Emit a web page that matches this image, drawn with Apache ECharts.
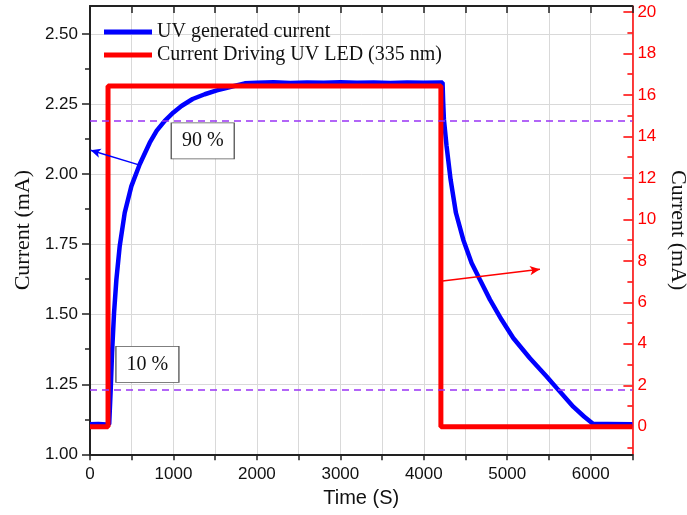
<!DOCTYPE html>
<html><head><meta charset="utf-8">
<script src="https://cdn.jsdelivr.net/npm/echarts@6/dist/echarts.min.js"></script>
<style>html,body{margin:0;padding:0;background:#fff}#c{width:687px;height:515px}</style>
</head><body><div id="c"></div>
<script>
// UV generated current (left axis, mA)
const uvTime = [0, 100, 200, 230, 236, 248, 264, 288, 316, 356, 416, 496, 596, 716, 800, 896, 1000, 1096, 1230, 1375, 1520, 1655, 1855, 2000, 2200, 2400, 2600, 2800, 3000, 3200, 3400, 3600, 3800, 4000, 4225, 4232, 4241, 4273, 4321, 4385, 4473, 4573, 4673, 4793, 4933, 5072, 5272, 5472, 5612, 5791, 5920, 6031, 6200, 6500];
const uvCurrent = [1.107, 1.108, 1.106, 1.108, 1.111, 1.230, 1.361, 1.504, 1.623, 1.743, 1.862, 1.957, 2.035, 2.112, 2.155, 2.190, 2.220, 2.243, 2.268, 2.285, 2.299, 2.309, 2.324, 2.326, 2.328, 2.325, 2.327, 2.326, 2.328, 2.326, 2.327, 2.325, 2.327, 2.326, 2.327, 2.26, 2.196, 2.100, 1.981, 1.862, 1.766, 1.683, 1.623, 1.552, 1.480, 1.415, 1.343, 1.278, 1.230, 1.170, 1.135, 1.108, 1.108, 1.107];
// Current driving UV LED (right axis, mA)
const ledTime = [0, 216, 216, 4205, 4205, 6500];
const ledCurrent = [0, 0, 16.43, 16.43, 0, 0];
// levels and tick labels
const level90 = 2.192;
const level10 = 1.227;
const xLabels = [0, 1000, 2000, 3000, 4000, 5000, 6000];
const xTicks = [0, 500, 1000, 1500, 2000, 2500, 3000, 3500, 4000, 4500, 5000, 5500, 6000, 6500];
const leftLabels = [1.00, 1.25, 1.50, 1.75, 2.00, 2.25, 2.50];
const leftMinor = [1.125, 1.375, 1.625, 1.875, 2.125, 2.375];
const rightLabels = [0, 2, 4, 6, 8, 10, 12, 14, 16, 18, 20];
const rightMinor = [-1, 1, 3, 5, 7, 9, 11, 13, 15, 17, 19];

const SERIF = "'Liberation Serif','Times New Roman',serif";
const SANS = "'Liberation Sans',Arial,sans-serif";

const uvData = uvTime.map((t, i) => [t, uvCurrent[i]]);
const ledData = ledTime.map((t, i) => [t, ledCurrent[i]]);

const chart = echarts.init(document.getElementById('c'));
const rect = { left: 90, right: 54.6, top: 6, bottom: 60.7, containLabel: false, outerBoundsMode: 'none' };
chart.setOption({
  animation: false,
  backgroundColor: '#fff',
  grid: [Object.assign({}, rect), Object.assign({}, rect)],
  legend: {
    orient: 'vertical', left: 104, top: 22, padding: 0, itemGap: 3,
    itemWidth: 48, itemHeight: 5, icon: 'rect',
    textStyle: { fontFamily: SERIF, fontSize: 20, color: '#111', lineHeight: 20 },
    data: ['UV generated current', 'Current Driving UV LED (335 nm)']
  },
  xAxis: [
    {
      type: 'value', gridIndex: 0, position: 'bottom', min: 0, max: 6500, interval: 1000,
      name: 'Time (S)', nameLocation: 'middle', nameGap: 30,
      nameTextStyle: { fontFamily: SANS, fontSize: 20, color: '#111' },
      axisLine: { show: true, onZero: false, lineStyle: { color: '#222', width: 2 } },
      axisTick: { show: true, inside: false, length: 6, customValues: xTicks, lineStyle: { color: '#222', width: 1.5 } },
      axisLabel: { customValues: xLabels, formatter: v => String(v), fontFamily: SANS, fontSize: 17, color: '#111', margin: 12 },
      splitLine: { show: true, lineStyle: { color: '#d9d9d9', width: 1 } }
    },
    {
      type: 'value', gridIndex: 0, position: 'top', min: 0, max: 6500, interval: 500,
      axisLine: { show: true, onZero: false, lineStyle: { color: '#222', width: 2 } },
      axisTick: { show: true, inside: true, length: 7, lineStyle: { color: '#222', width: 1.5 } },
      axisLabel: { show: false },
      splitLine: { show: false }
    },
    {
      type: 'value', gridIndex: 1, min: 0, max: 6500, show: false
    }
  ],
  yAxis: [
    {
      type: 'value', gridIndex: 0, position: 'left', min: 1.0, max: 2.6, interval: 0.25,
      name: 'Current (mA)', nameLocation: 'middle', nameGap: 50,
      nameTextStyle: { fontFamily: SERIF, fontSize: 22, color: '#111' },
      axisLine: { show: true, onZero: false, lineStyle: { color: '#222', width: 2 } },
      axisTick: { show: true, inside: false, length: 8, customValues: leftLabels, lineStyle: { color: '#222', width: 1.5 } },
      axisLabel: { customValues: leftLabels, formatter: v => v.toFixed(2), fontFamily: SANS, fontSize: 17, color: '#111', margin: 12 },
      splitLine: { show: true, lineStyle: { color: '#d9d9d9', width: 1 } }
    },
    {
      type: 'value', gridIndex: 0, position: 'right', min: -1.33, max: 20.29,
      name: 'Current (mA)', nameLocation: 'middle', nameGap: 30, nameRotate: -90,
      nameTextStyle: { fontFamily: SERIF, fontSize: 22, color: '#111' },
      axisLine: { show: true, onZero: false, lineStyle: { color: '#ff0000', width: 1.5 } },
      axisTick: { show: true, inside: true, length: 9, customValues: rightLabels, lineStyle: { color: '#ff0000', width: 1.5 } },
      axisLabel: { customValues: rightLabels, fontFamily: SANS, fontSize: 17, color: '#ff0000', margin: 5 },
      splitLine: { show: false }
    },
    {
      type: 'value', gridIndex: 1, position: 'left', min: 1.0, max: 2.6,
      axisLine: { show: false },
      axisTick: { show: true, inside: false, length: 5, customValues: leftMinor, lineStyle: { color: '#222', width: 1.5 } },
      axisLabel: { show: false }, splitLine: { show: false }
    },
    {
      type: 'value', gridIndex: 1, position: 'right', min: -1.33, max: 20.29,
      axisLine: { show: false },
      axisTick: { show: true, inside: true, length: 5, customValues: rightMinor, lineStyle: { color: '#ff0000', width: 1.5 } },
      axisLabel: { show: false }, splitLine: { show: false }
    }
  ],
  series: [
    {
      name: 'UV generated current', type: 'line', xAxisIndex: 0, yAxisIndex: 0,
      data: uvData, showSymbol: false, symbol: 'none',
      lineStyle: { color: '#0000ff', width: 4.5 }, itemStyle: { color: '#0000ff' },
      z: 2,
      markLine: {
        silent: true, symbol: ['none', 'none'], label: { show: false },
        data: [
          { yAxis: level90, lineStyle: { type: [7, 5], color: '#9933f5', width: 1.5 } },
          { yAxis: level10, lineStyle: { type: [7, 5], color: '#9933f5', width: 1.5 } },
          [
            { coord: [596, 2.032], symbol: 'none', lineStyle: { color: '#0000ff', width: 1.5, type: 'solid' } },
            { coord: [8, 2.085], symbol: 'arrow', symbolSize: [7, 10] }
          ]
        ]
      },
      markPoint: {
        silent: true, symbol: 'rect',
        itemStyle: { color: '#ffffff', borderColor: '#555', borderWidth: 1 },
        label: { show: true, position: 'inside', formatter: '{c}', fontFamily: SERIF, fontSize: 20, color: '#111' },
        data: [
          { coord: [1351, 2.119], value: '90 %', symbolSize: [63, 36] },
          { coord: [688, 1.321], value: '10 %', symbolSize: [63, 36] }
        ]
      }
    },
    {
      name: 'Current Driving UV LED (335 nm)', type: 'line', xAxisIndex: 0, yAxisIndex: 1,
      data: ledData, showSymbol: false, symbol: 'none',
      lineStyle: { color: '#ff0000', width: 5 }, itemStyle: { color: '#ff0000' },
      z: 3,
      markLine: {
        silent: true, label: { show: false },
        data: [
          [
            { coord: [4225, 7.03], symbol: 'none', lineStyle: { color: '#ff0000', width: 1.5, type: 'solid' } },
            { coord: [5392, 7.59], symbol: 'arrow', symbolSize: [7, 10] }
          ]
        ]
      }
    }
  ]
});
</script>
</body></html>
